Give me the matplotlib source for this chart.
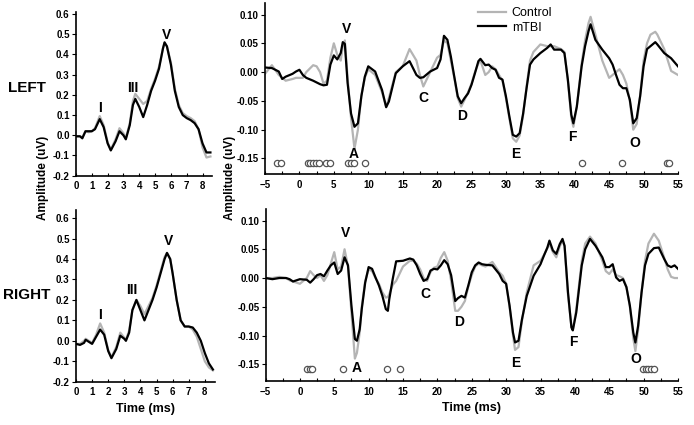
''' ABR / MLR waveforms, control vs mTBI
'''
import matplotlib
matplotlib.use('Agg')
import matplotlib.pyplot as plt
from matplotlib.ticker import MultipleLocator

plt.rcParams['font.family'] = ['Liberation Sans', 'DejaVu Sans']
plt.rcParams['font.weight'] = 'bold'

grey = '#b4b4b4'
black = '#000000'

# --- ABR, left ear (0 - 8.5 ms)
abr_left_t = [0, 0.25, 0.4, 0.6, 0.8, 1.0, 1.2, 1.5, 1.75, 2.0, 2.2, 2.5, 2.75, 3.0, 3.15,
              3.4, 3.6, 3.75, 4.0, 4.25, 4.5, 4.75, 5.0, 5.25, 5.5, 5.6, 5.75, 6.0, 6.25,
              6.5, 6.75, 7.0, 7.25, 7.5, 7.75, 8.0, 8.25, 8.5]
abr_left_mtbi = [-0.005, -0.005, -0.015, 0.02, 0.02, 0.02, 0.03, 0.08, 0.04, -0.04, -0.075,
                 -0.03, 0.02, 0.0, -0.02, 0.05, 0.15, 0.18, 0.14, 0.09, 0.15, 0.22, 0.27,
                 0.33, 0.43, 0.46, 0.44, 0.35, 0.22, 0.14, 0.10, 0.085, 0.075, 0.06, 0.03,
                 -0.04, -0.085, -0.085]
abr_left_ctrl = [-0.005, -0.005, -0.01, 0.02, 0.015, 0.02, 0.035, 0.095, 0.05, -0.035, -0.07,
                 -0.02, 0.035, 0.01, -0.015, 0.06, 0.17, 0.205, 0.18, 0.155, 0.17, 0.23, 0.28,
                 0.34, 0.43, 0.455, 0.44, 0.36, 0.23, 0.15, 0.11, 0.095, 0.085, 0.07, 0.03,
                 -0.06, -0.11, -0.105]

# --- ABR, right ear
abr_right_t = [0, 0.25, 0.5, 0.6, 0.8, 1.0, 1.25, 1.5, 1.75, 2.0, 2.2, 2.5, 2.75, 3.0, 3.1,
               3.3, 3.5, 3.75, 4.0, 4.25, 4.5, 4.75, 5.0, 5.25, 5.5, 5.65, 5.85, 6.0, 6.25,
               6.5, 6.75, 7.0, 7.25, 7.5, 7.75, 8.0, 8.25, 8.5]
abr_right_mtbi = [-0.015, -0.02, -0.01, 0.005, -0.005, -0.015, 0.02, 0.055, 0.03, -0.05,
                  -0.085, -0.04, 0.025, 0.01, 0.0, 0.04, 0.15, 0.2, 0.15, 0.1, 0.15, 0.2,
                  0.26, 0.33, 0.4, 0.43, 0.4, 0.33, 0.2, 0.1, 0.07, 0.07, 0.065, 0.04, 0.0,
                  -0.06, -0.11, -0.14]
abr_right_ctrl = [-0.015, -0.015, 0.0, 0.01, 0.0, -0.01, 0.03, 0.085, 0.04, -0.045, -0.08,
                  -0.03, 0.04, 0.015, 0.005, 0.05, 0.15, 0.2, 0.17, 0.13, 0.17, 0.21, 0.27,
                  0.34, 0.41, 0.43, 0.4, 0.33, 0.2, 0.1, 0.07, 0.07, 0.055, 0.02, -0.04,
                  -0.1, -0.13, -0.145]

# --- MLR, left ear (-5 - 55 ms)
mlr_left_t = [-5, -4, -3, -2.5, -2, -1, -0.5, 0, 0.5, 1, 2, 2.5, 3, 3.5, 4, 4.5, 5, 5.5, 6,
              6.3, 6.6, 7, 7.5, 8, 8.5, 9, 9.5, 10, 11, 12, 12.6, 13, 14, 15, 16, 17, 17.5,
              18, 19, 20, 20.5, 21, 21.5, 22, 22.5, 23, 23.5, 24, 24.5, 25, 25.5, 26, 26.3,
              27, 27.5, 28, 28.5, 29, 29.5, 30, 30.5, 31, 31.5, 32, 32.5, 33, 33.5, 34, 35,
              36, 36.5, 37, 38, 38.5, 39, 39.5, 39.8, 40.3, 41, 41.5, 42, 42.3, 43, 44, 45,
              45.5, 46, 46.5, 47, 47.5, 48, 48.5, 49, 49.5, 50, 50.5, 51, 51.7, 52, 53, 54, 55]
mlr_left_mtbi = [0.008, 0.007, 0.001, -0.012, -0.008, -0.003, 0.001, 0.004, -0.005, -0.01,
                 -0.015, -0.018, -0.021, -0.023, -0.022, 0.013, 0.029, 0.022, 0.033, 0.052,
                 0.049, -0.019, -0.072, -0.095, -0.089, -0.042, -0.008, 0.01, 0.001, -0.031,
                 -0.061, -0.051, -0.002, 0.01, 0.019, -0.005, -0.01, -0.009, 0.001, 0.007,
                 0.022, 0.063, 0.056, 0.027, -0.008, -0.042, -0.054, -0.045, -0.037, -0.022,
                 -0.002, 0.019, 0.023, 0.012, 0.013, 0.007, 0.004, -0.01, -0.013, -0.042,
                 -0.077, -0.109, -0.112, -0.106, -0.072, -0.028, 0.013, 0.022, 0.033, 0.042,
                 0.048, 0.039, 0.039, 0.033, -0.013, -0.074, -0.089, -0.06, 0.01, 0.045,
                 0.071, 0.083, 0.056, 0.039, 0.024, 0.013, -0.005, -0.022, -0.028, -0.028,
                 -0.048, -0.089, -0.08, -0.042, 0.01, 0.04, 0.045, 0.052, 0.048, 0.033,
                 0.024, 0.01]
mlr_left_ctrl = [-0.003, 0.012, -0.005, -0.01, -0.015, -0.012, -0.01, -0.01, -0.01, 0.0,
                 0.012, 0.01, 0.0, -0.02, -0.015, 0.025, 0.05, 0.03, 0.02, 0.045, 0.055,
                 -0.01, -0.08, -0.133, -0.1, -0.04, -0.01, 0.005, -0.005, -0.035, -0.06,
                 -0.045, 0.0, 0.01, 0.04, 0.02, -0.005, -0.025, 0.0, 0.025, 0.03, 0.055,
                 0.05, 0.02, -0.01, -0.045, -0.06, -0.048, -0.035, -0.02, 0.0, 0.015, 0.02,
                 -0.005, 0.0, 0.01, 0.005, -0.005, -0.015, -0.045, -0.08, -0.115, -0.121,
                 -0.11, -0.075, -0.025, 0.02, 0.035, 0.048, 0.045, 0.045, 0.045, 0.04,
                 0.035, -0.015, -0.08, -0.095, -0.06, 0.015, 0.055, 0.085, 0.096, 0.065,
                 0.02, -0.01, -0.005, 0.0, 0.005, -0.005, -0.02, -0.05, -0.1, -0.09, -0.04,
                 0.02, 0.05, 0.065, 0.07, 0.065, 0.04, 0.002, -0.005]

# --- MLR, right ear
mlr_right_t = [-5, -4, -3, -2, -1.5, -1, 0, 1, 1.5, 2, 2.5, 3, 3.5, 4, 4.5, 5, 5.5, 6, 6.5,
               7, 7.5, 8, 8.3, 8.7, 9, 9.5, 10, 10.5, 11, 11.5, 12, 12.5, 12.8, 13, 13.5,
               14, 15, 16, 16.5, 17, 17.5, 18, 18.5, 19, 19.5, 20, 20.5, 21, 21.5, 22, 22.6,
               23, 23.5, 24, 24.5, 25, 25.5, 26, 26.5, 27, 28, 29, 29.5, 30, 30.5, 31, 31.3,
               31.8, 32.3, 33, 34, 35, 35.5, 36, 36.3, 36.8, 37.3, 37.8, 38.2, 38.5, 39,
               39.5, 39.7, 40.2, 41, 41.5, 42.2, 43, 44, 44.5, 45, 45.5, 46, 46.5, 47, 47.5,
               48, 48.5, 48.8, 49.2, 49.7, 50.2, 50.7, 51.5, 52.2, 53, 53.5, 54, 54.5, 55]
mlr_right_mtbi = [0.0, -0.002, 0.0, 0.0, -0.002, -0.006, -0.002, -0.003, -0.008, -0.002,
                  0.005, 0.007, 0.003, 0.013, 0.022, 0.027, 0.007, 0.013, 0.036, 0.022,
                  -0.048, -0.106, -0.109, -0.089, -0.054, -0.008, 0.019, 0.016, 0.001,
                  -0.013, -0.031, -0.054, -0.057, -0.037, -0.002, 0.029, 0.03, 0.034, 0.032,
                  0.022, 0.007, -0.005, -0.002, 0.013, 0.016, 0.015, 0.022, 0.031, 0.024,
                  0.005, -0.04, -0.035, -0.031, -0.034, -0.013, 0.01, 0.022, 0.027, 0.024,
                  0.023, 0.022, 0.007, -0.005, -0.01, -0.048, -0.095, -0.112, -0.109, -0.072,
                  -0.031, 0.004, 0.024, 0.039, 0.053, 0.065, 0.048, 0.042, 0.059, 0.068,
                  0.056, -0.025, -0.086, -0.091, -0.06, 0.022, 0.05, 0.068, 0.056, 0.036,
                  0.019, 0.019, 0.024, 0.001, -0.005, -0.002, -0.016, -0.048, -0.095, -0.112,
                  -0.083, -0.025, 0.022, 0.042, 0.052, 0.053, 0.033, 0.022, 0.019, 0.022,
                  0.016]
mlr_right_ctrl = [0.0, 0.0, 0.002, 0.0, -0.004, -0.006, -0.01, 0.0, 0.012, 0.005, 0.0,
                  0.005, -0.005, 0.005, 0.025, 0.045, 0.015, 0.02, 0.05, 0.02, -0.06, -0.14,
                  -0.13, -0.095, -0.05, -0.005, 0.015, 0.012, 0.0, -0.01, -0.025, -0.034,
                  -0.033, -0.028, -0.012, -0.005, 0.02, 0.03, 0.03, 0.025, 0.015, 0.0,
                  -0.005, 0.01, 0.018, 0.02, 0.035, 0.045, 0.03, -0.005, -0.057, -0.057,
                  -0.05, -0.04, -0.015, 0.005, 0.02, 0.025, 0.022, 0.02, 0.028, 0.01, 0.004,
                  -0.01, -0.05, -0.1, -0.125, -0.12, -0.075, -0.025, 0.022, 0.03, 0.04,
                  0.052, 0.06, 0.045, 0.036, 0.055, 0.065, 0.055, -0.03, -0.085, -0.09,
                  -0.055, 0.03, 0.06, 0.072, 0.06, 0.03, 0.012, 0.007, 0.015, 0.005, 0.003,
                  0.0, -0.015, -0.05, -0.105, -0.127, -0.09, -0.025, 0.03, 0.06, 0.077,
                  0.065, 0.035, 0.015, 0.002, 0.0, 0.0]

# significance markers (ms)
sig_left = [-3.2, -2.7, 1.2, 1.6, 2.0, 2.4, 2.8, 3.9, 4.5, 7.1, 7.5, 7.9, 9.5, 41.0, 46.8,
            53.4, 53.7]
sig_right = [1.1, 1.4, 1.7, 6.2, 12.7, 14.6, 49.9, 50.3, 50.7, 51.1, 51.5]
sig_level = -0.158

# wave labels (text, time, amplitude at label centre)
abr_left_labels = [('I', 1.52, 0.136), ('III', 3.62, 0.234), ('V', 5.73, 0.495)]
abr_right_labels = [('I', 1.49, 0.125), ('III', 3.49, 0.25), ('V', 5.72, 0.49)]
mlr_left_labels = [('V', 6.8, 0.074), ('A', 7.9, -0.143), ('C', 18.0, -0.045),
                   ('D', 23.7, -0.076), ('E', 31.5, -0.142), ('F', 39.7, -0.112),
                   ('O', 48.7, -0.124)]
mlr_right_labels = [('V', 6.7, 0.078), ('A', 8.25, -0.156), ('C', 18.3, -0.028),
                    ('D', 23.1, -0.076), ('E', 31.4, -0.148), ('F', 39.8, -0.112),
                    ('O', 48.8, -0.141)]


def style_axes(ax):
    for side in ('top', 'right'):
        ax.spines[side].set_visible(False)
    ax.spines['left'].set_linewidth(1.2)
    ax.spines['bottom'].set_linewidth(1.2)
    ax.tick_params(axis='x', which='both', direction='in', length=2.5, width=0.8,
                   labelsize=7, pad=4)
    ax.tick_params(axis='y', which='both', direction='out', length=3, width=0.8,
                   labelsize=7, pad=1.5)
    for lab in ax.get_xticklabels() + ax.get_yticklabels():
        lab.set_fontweight('bold')


def draw_abr(ax, t, ctrl, mtbi, labels, ytop):
    ax.plot(t, ctrl, color=grey, lw=1.6)
    ax.plot(t, mtbi, color=black, lw=1.6)
    ax.set_xlim(0, 8.6)
    ax.set_ylim(-0.2, ytop)
    ax.xaxis.set_major_locator(MultipleLocator(1))
    ax.yaxis.set_major_locator(MultipleLocator(0.1))
    ax.yaxis.set_major_formatter(plt.FuncFormatter(lambda v, p: '%.1f' % v))
    for txt, x, y in labels:
        ax.text(x, y, txt, ha='center', va='center', fontsize=10, fontweight='bold')
    style_axes(ax)


def draw_mlr(ax, t, ctrl, mtbi, labels, sig, ybottom):
    ax.plot(t, ctrl, color=grey, lw=1.6, label='Control')
    ax.plot(t, mtbi, color=black, lw=1.6, label='mTBI')
    ax.plot(sig, [sig_level] * len(sig), ls='none', marker='o', ms=4.5,
            mfc='white', mec='#555555', mew=0.9)
    ax.set_xlim(-5, 55)
    ax.set_ylim(ybottom, 0.12)
    ax.xaxis.set_major_locator(MultipleLocator(5))
    ax.xaxis.set_minor_locator(MultipleLocator(2.5))
    ax.yaxis.set_major_formatter(plt.FuncFormatter(lambda v, p: '%.2f' % v))
    ax.set_yticks([-0.15, -0.10, -0.05, 0.0, 0.05, 0.10])
    for txt, x, y in labels:
        ax.text(x, y, txt, ha='center', va='center', fontsize=10, fontweight='bold')
    style_axes(ax)


def main():
    W, H = 694, 425
    fig = plt.figure(figsize=(W / 100, H / 100), dpi=100)

    def rect(left, right, top, bottom):
        return [left / W, 1 - bottom / H, (right - left) / W, (bottom - top) / H]

    ax_abr_l = fig.add_axes(rect(76, 212, 12, 175.7))
    ax_mlr_l = fig.add_axes(rect(265, 678, 3, 174))
    ax_abr_r = fig.add_axes(rect(76, 214.5, 210, 381.7))
    ax_mlr_r = fig.add_axes(rect(265.5, 678, 209, 381))

    draw_abr(ax_abr_l, abr_left_t, abr_left_ctrl, abr_left_mtbi, abr_left_labels, 0.61)
    draw_abr(ax_abr_r, abr_right_t, abr_right_ctrl, abr_right_mtbi, abr_right_labels, 0.64)
    draw_mlr(ax_mlr_l, mlr_left_t, mlr_left_ctrl, mlr_left_mtbi, mlr_left_labels,
             sig_left, -0.177)
    draw_mlr(ax_mlr_r, mlr_right_t, mlr_right_ctrl, mlr_right_mtbi, mlr_right_labels,
             sig_right, -0.179)

    ax_mlr_l.legend(loc='upper left', bbox_to_anchor=((473 - 265) / 413, 1.005),
                    frameon=False, prop={'size': 9, 'weight': 'normal'},
                    handlelength=2.2, handletextpad=0.5, labelspacing=0.2,
                    borderaxespad=0)

    ax_abr_r.set_xlabel('Time (ms)', fontsize=9, fontweight='bold', labelpad=4)
    ax_mlr_r.set_xlabel('Time (ms)', fontsize=9, fontweight='bold', labelpad=4)

    fig.text(27 / W, 1 - 88 / H, 'LEFT', ha='center', va='center', fontsize=11,
             fontweight='bold')
    fig.text(27 / W, 1 - 295 / H, 'RIGHT', ha='center', va='center', fontsize=11,
             fontweight='bold')
    for x in (43, 230):
        fig.text(x / W, 1 - 178 / H, 'Amplitude (uV)', rotation=90, ha='center',
                 va='center', fontsize=8.5, fontweight='bold')

    fig.savefig('out.png', dpi=100)


if __name__ == '__main__':
    main()
